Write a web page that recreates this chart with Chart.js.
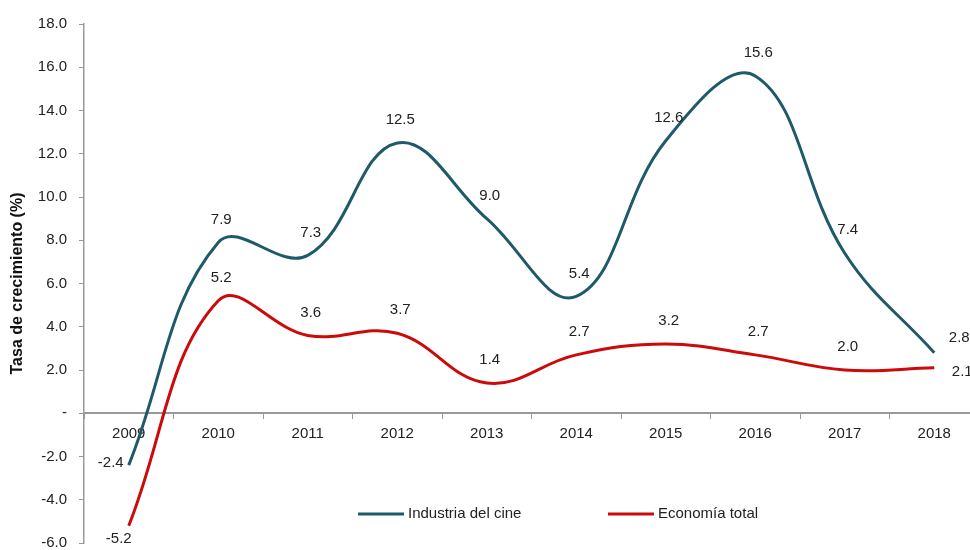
<!DOCTYPE html>
<html lang="es">

<head>
    <meta charset="UTF-8">
    <title>Tasa de crecimiento</title>
    <script src="https://cdn.jsdelivr.net/npm/chart.js"></script>
    <style>
        html, body { margin: 0; padding: 0; background: #fff; overflow: hidden; }
        #chart { display: block; }
    </style>
</head>

<body>
    <canvas id="chart" width="980" height="550"></canvas>
    <script>
        // Data
        const years = ['2009', '2010', '2011', '2012', '2013', '2014', '2015', '2016', '2017', '2018'];
        const cine = [-2.4, 7.9, 7.3, 12.5, 9.0, 5.4, 12.6, 15.6, 7.4, 2.8];
        const economia = [-5.2, 5.2, 3.6, 3.7, 1.4, 2.7, 3.2, 2.7, 2.0, 2.1];
        const seriesNames = ['Industria del cine', 'Economía total'];
        const yTicks = { min: -6, max: 18, step: 2 };

        const colCine = '#1F5A6B';
        const colEco = '#CC0A0A';
        const fontFam = "'Liberation Sans', Arial, sans-serif";

        // value labels above each point, with a few moved by hand
        const valueLabels = {
            id: 'valueLabels',
            afterDatasetsDraw(chart) {
                const ctx = chart.ctx;
                const shift = {
                    '0-0': [-18, -2], '1-0': [-10, 13],
                    '0-9': [25, -15], '1-9': [28, 4]
                };
                ctx.save();
                ctx.font = '15px ' + fontFam;
                ctx.fillStyle = '#222';
                ctx.textAlign = 'center';
                ctx.textBaseline = 'middle';
                chart.data.datasets.forEach((ds, i) => {
                    chart.getDatasetMeta(i).data.forEach((pt, j) => {
                        const s = shift[i + '-' + j] || [3, -23];
                        ctx.fillText(ds.data[j].toFixed(1), pt.x + s[0], pt.y + s[1]);
                    });
                });
                ctx.restore();
            }
        };

        // legend sits inside the plot, near the bottom
        const innerLegend = {
            id: 'innerLegend',
            afterDraw(chart) {
                const ctx = chart.ctx;
                const items = [[358, colCine], [608, colEco]];
                ctx.save();
                ctx.font = '15px ' + fontFam;
                ctx.textBaseline = 'middle';
                ctx.textAlign = 'left';
                items.forEach((it, i) => {
                    ctx.strokeStyle = it[1];
                    ctx.lineWidth = 3;
                    ctx.beginPath();
                    ctx.moveTo(it[0], 514);
                    ctx.lineTo(it[0] + 46, 514);
                    ctx.stroke();
                    ctx.fillStyle = '#222';
                    ctx.fillText(seriesNames[i], it[0] + 50, 514);
                });
                ctx.restore();
            }
        };

        new Chart(document.getElementById('chart'), {
            type: 'line',
            data: {
                labels: years,
                datasets: [
                    { label: seriesNames[0], data: cine, borderColor: colCine, borderWidth: 3, pointRadius: 0, tension: 0.4 },
                    { label: seriesNames[1], data: economia, borderColor: colEco, borderWidth: 3, pointRadius: 0, tension: 0.4 }
                ]
            },
            options: {
                responsive: false,
                devicePixelRatio: 1,
                animation: false,
                layout: { padding: { top: 24, right: 1, bottom: 7, left: 0 } },
                plugins: { legend: { display: false }, tooltip: { enabled: false } },
                scales: {
                    x: {
                        position: { y: 0 },
                        offset: true,
                        grid: { offset: true, drawOnChartArea: false, tickLength: 5, color: '#999' },
                        border: { color: '#999', width: 2 },
                        ticks: { font: { family: fontFam, size: 15 }, color: '#222', padding: 7, maxRotation: 0 },
                        afterFit(scale) { scale.height = 0; }
                    },
                    y: {
                        min: yTicks.min,
                        max: yTicks.max,
                        grid: { drawOnChartArea: false, tickLength: 5, color: '#999' },
                        border: { color: '#999', width: 1.5 },
                        ticks: {
                            stepSize: yTicks.step,
                            font: { family: fontFam, size: 15, lineHeight: 1 },
                            color: '#222',
                            padding: 12,
                            callback: v => v === 0 ? '-' : v.toFixed(1)
                        },
                        title: {
                            display: true,
                            text: 'Tasa de crecimiento (%)',
                            font: { family: fontFam, size: 16, weight: 'bold' },
                            color: '#111',
                            padding: { top: 8, bottom: 0 }
                        },
                        afterFit(scale) {
                            scale.width = 84;
                            scale.paddingTop = 0;
                            scale.paddingBottom = 0;
                        }
                    }
                }
            },
            plugins: [valueLabels, innerLegend]
        });
    </script>
</body>

</html>
